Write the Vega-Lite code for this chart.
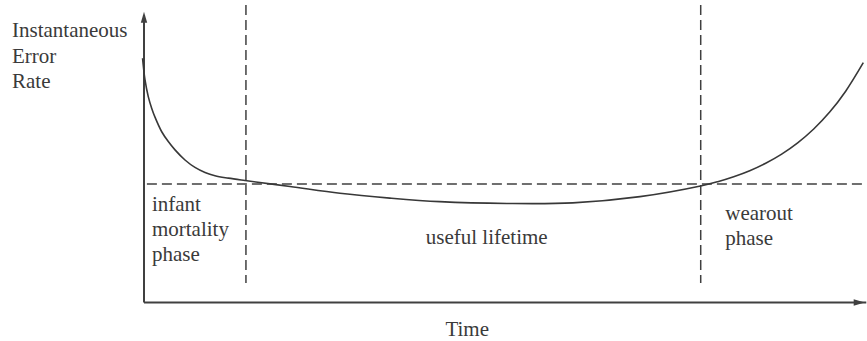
{
  "$schema": "https://vega.github.io/schema/vega-lite/v6.json",
  "autosize": {"type": "none"},
  "width": 723,
  "height": 297.5,
  "padding": {"left": 144, "top": 5, "right": 0, "bottom": 38.5},
  "background": "white",
  "config": {"view": {"stroke": null}},
  "datasets": {
    "curve": [
      {"t": -0.2, "r": 82.1}, {"t": 0.14, "r": 74.8}, {"t": 0.59, "r": 69.2}, {"t": 1.06, "r": 65.3},
      {"t": 1.52, "r": 62.3}, {"t": 2.45, "r": 57.4}, {"t": 3.36, "r": 54.1}, {"t": 4.29, "r": 51.3},
      {"t": 5.67, "r": 47.9}, {"t": 7.05, "r": 45.4}, {"t": 8.44, "r": 43.7}, {"t": 9.82, "r": 42.6},
      {"t": 11.66, "r": 41.8}, {"t": 13.97, "r": 41.0},
      {"t": 20.2, "r": 39.0}, {"t": 27.1, "r": 36.7}, {"t": 34.0, "r": 35.1}, {"t": 40.9, "r": 33.9},
      {"t": 50.2, "r": 33.3}, {"t": 59.3, "r": 33.5}, {"t": 68.6, "r": 35.6}, {"t": 77.14, "r": 39.26},
      {"t": 79.35, "r": 40.61}, {"t": 81.56, "r": 42.27}, {"t": 83.78, "r": 44.3}, {"t": 85.99, "r": 46.82},
      {"t": 88.2, "r": 49.88}, {"t": 90.41, "r": 53.66}, {"t": 92.63, "r": 58.32}, {"t": 94.84, "r": 64.0},
      {"t": 97.05, "r": 71.03}, {"t": 99.49, "r": 80.61}
    ],
    "dashed": [
      {"t1": 0.4, "r1": 39.8, "t2": 99.3, "r2": 39.8},
      {"t1": 14.1, "r1": 100, "t2": 14.1, "r2": 6.55},
      {"t1": 77.0, "r1": 100, "t2": 77.0, "r2": 6.55}
    ],
    "axes": [
      {"t1": 0, "r1": 0, "t2": 0, "r2": 96.6},
      {"t1": 0, "r1": 0, "t2": 99.9, "r2": 0}
    ],
    "arrows": [
      {"t": 0, "r": 94.4, "angle": 0},
      {"t": 98.3, "r": 0, "angle": 90}
    ],
    "labels": [
      {"t": -18.26, "r": 89.1, "text": "Instantaneous", "align": "left"},
      {"t": -18.26, "r": 80.4, "text": "Error", "align": "left"},
      {"t": -18.26, "r": 72.0, "text": "Rate", "align": "left"},
      {"t": 1.1, "r": 30.8, "text": "infant", "align": "left"},
      {"t": 1.1, "r": 22.4, "text": "mortality", "align": "left"},
      {"t": 1.1, "r": 13.9, "text": "phase", "align": "left"},
      {"t": 80.4, "r": 27.7, "text": "wearout", "align": "left"},
      {"t": 80.4, "r": 19.3, "text": "phase", "align": "left"},
      {"t": 47.4, "r": 19.8, "text": "useful lifetime", "align": "center"},
      {"t": 44.7, "r": -11.2, "text": "Time", "align": "center"}
    ]
  },
  "layer": [
    {
      "data": {"name": "axes"},
      "mark": {"type": "rule", "color": "#404040", "strokeWidth": 2},
      "encoding": {
        "x": {"field": "t1", "type": "quantitative", "scale": {"domain": [0, 100], "nice": false, "zero": false}, "axis": null},
        "y": {"field": "r1", "type": "quantitative", "scale": {"domain": [0, 100], "nice": false, "zero": false}, "axis": null},
        "x2": {"field": "t2"},
        "y2": {"field": "r2"}
      }
    },
    {
      "data": {"name": "dashed"},
      "mark": {"type": "rule", "color": "#404040", "strokeWidth": 1.5, "strokeDash": [10, 5]},
      "encoding": {
        "x": {"field": "t1", "type": "quantitative"},
        "y": {"field": "r1", "type": "quantitative"},
        "x2": {"field": "t2"},
        "y2": {"field": "r2"}
      }
    },
    {
      "data": {"name": "curve"},
      "mark": {"type": "line", "color": "#383838", "strokeWidth": 1.6, "interpolate": "catmull-rom", "clip": false},
      "encoding": {
        "x": {"field": "t", "type": "quantitative"},
        "y": {"field": "r", "type": "quantitative"}
      }
    },
    {
      "data": {"name": "arrows"},
      "mark": {"type": "point", "shape": "M0,-1L0.32,0.1L-0.32,0.1Z", "filled": true, "color": "#404040", "size": 400, "opacity": 1},
      "encoding": {
        "x": {"field": "t", "type": "quantitative"},
        "y": {"field": "r", "type": "quantitative"},
        "angle": {"field": "angle", "type": "quantitative", "scale": null}
      }
    },
    {
      "data": {"name": "labels"},
      "transform": [{"filter": "datum.align === 'left'"}],
      "mark": {"type": "text", "font": "Liberation Serif", "fontSize": 21, "color": "#3a3a3a", "baseline": "alphabetic", "align": "left"},
      "encoding": {
        "x": {"field": "t", "type": "quantitative"},
        "y": {"field": "r", "type": "quantitative"},
        "text": {"field": "text"}
      }
    },
    {
      "data": {"name": "labels"},
      "transform": [{"filter": "datum.align === 'center'"}],
      "mark": {"type": "text", "font": "Liberation Serif", "fontSize": 21, "color": "#3a3a3a", "baseline": "alphabetic", "align": "center"},
      "encoding": {
        "x": {"field": "t", "type": "quantitative"},
        "y": {"field": "r", "type": "quantitative"},
        "text": {"field": "text"}
      }
    }
  ]
}
